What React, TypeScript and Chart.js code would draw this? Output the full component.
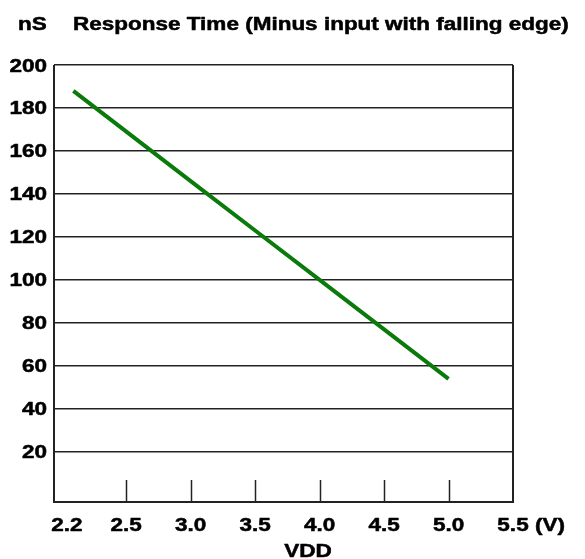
import React, { useEffect, useRef } from "react";
import { Chart, registerables } from "chart.js";

Chart.register(...registerables);

const VDD = [2.09, 3.0, 3.5, 4.0, 4.5, 5.0];
const RESPONSE_NS = [188, 146, 123, 100, 77, 54];
const Y_TICKS = [20, 40, 60, 80, 100, 120, 140, 160, 180, 200];
const X_TICK_VALUES = [2.04, 2.5, 3.0, 3.5, 4.0, 4.5, 5.0, 5.5];
const X_TICK_LABELS = ["2.2", "2.5", "3.0", "3.5", "4.0", "4.5", "5.0", "5.5"];
const X_MARKS = [2.5, 3.0, 3.5, 4.0, 4.5, 5.0];
const TITLE = "Response Time (Minus input with falling edge)";
const UNIT_Y = "nS";
const UNIT_X = "(V)";
const AXIS_X = "VDD";

const FONT = "'Liberation Sans', Arial, sans-serif";
const LINE = "#222222";
const STRETCH = 1.25;

function stretchedText(ctx: CanvasRenderingContext2D, text: string, x: number, y: number, align: CanvasTextAlign) {
  ctx.save();
  ctx.translate(x, y);
  ctx.scale(STRETCH, 1);
  ctx.textAlign = align;
  ctx.textBaseline = "alphabetic";
  ctx.lineWidth = 0.5;
  ctx.lineJoin = "round";
  ctx.strokeStyle = ctx.fillStyle as string;
  ctx.strokeText(text, 0, 0);
  ctx.fillText(text, 0, 0);
  ctx.restore();
}

export default function App() {
  const ref = useRef<HTMLCanvasElement>(null);
  useEffect(() => {
    document.body.style.margin = "0";
    const canvas = ref.current!;
    const deco = {
      id: "deco",
      afterDraw(chart: any) {
        const ctx = chart.ctx as CanvasRenderingContext2D;
        const a = chart.chartArea;
        const xs = chart.scales.x;
        const ys = chart.scales.y;
        ctx.save();
        ctx.strokeStyle = LINE;
        ctx.lineWidth = 2;
        ctx.beginPath();
        ctx.moveTo(a.left, a.top);
        ctx.lineTo(a.left, a.bottom);
        ctx.lineTo(a.right, a.bottom);
        ctx.lineTo(a.right, a.top);
        ctx.stroke();
        ctx.lineWidth = 1.5;
        X_MARKS.forEach((v) => {
          const px = Math.round(xs.getPixelForValue(v)) + 0.5;
          ctx.beginPath();
          ctx.moveTo(px, a.bottom);
          ctx.lineTo(px, a.bottom - 22);
          ctx.stroke();
        });
        ctx.fillStyle = "#000";
        ctx.font = `bold 18px ${FONT}`;
        stretchedText(ctx, UNIT_Y, 18, 30, "left");
        stretchedText(ctx, TITLE, 73, 30, "left");
        Y_TICKS.forEach((v) => {
          stretchedText(ctx, String(v), a.left - 7, ys.getPixelForValue(v) + 6.5, "right");
        });
        X_TICK_VALUES.forEach((v, i) => {
          const px = xs.getPixelForValue(v);
          const lab = X_TICK_LABELS[i];
          if (i === X_TICK_VALUES.length - 1) {
            const w = ctx.measureText(lab).width * STRETCH;
            stretchedText(ctx, lab + " " + UNIT_X, px - w / 2, 531, "left");
          } else {
            stretchedText(ctx, lab, px, 531, "center");
          }
        });
        stretchedText(ctx, AXIS_X, 308, 556.5, "center");
        ctx.restore();
      },
    };
    const chart = new Chart(canvas, {
      type: "line",
      data: {
        datasets: [
          {
            data: VDD.map((x, i) => ({ x, y: RESPONSE_NS[i] })),
            borderColor: "#0a7a0a",
            borderWidth: 4,
            pointRadius: 0,
            tension: 0,
          },
        ],
      },
      options: {
        animation: false,
        responsive: false,
        events: [],
        layout: { padding: { top: 65, right: 72, left: 0, bottom: 0 } },
        plugins: { legend: { display: false }, tooltip: { enabled: false }, title: { display: false } },
        scales: {
          x: {
            type: "linear",
            min: 1.94,
            max: 5.5,
            afterBuildTicks: (s: any) => {
              s.ticks = X_TICK_VALUES.map((v) => ({ value: v }));
            },
            afterFit: (s: any) => {
              s.height = 57;
            },
            grid: { display: false, drawTicks: false },
            border: { display: false },
            ticks: { display: false },
          },
          y: {
            min: -3.3,
            max: 200,
            afterBuildTicks: (s: any) => {
              s.ticks = Y_TICKS.map((v) => ({ value: v }));
            },
            afterFit: (s: any) => {
              s.width = 54;
            },
            grid: { color: LINE, lineWidth: 1.5, drawTicks: false },
            border: { display: false },
            ticks: { display: false },
          },
        },
      },
      plugins: [deco],
    });
    return () => chart.destroy();
  }, []);
  return <canvas ref={ref} width={585} height={559} style={{ display: "block" }} />;
}
